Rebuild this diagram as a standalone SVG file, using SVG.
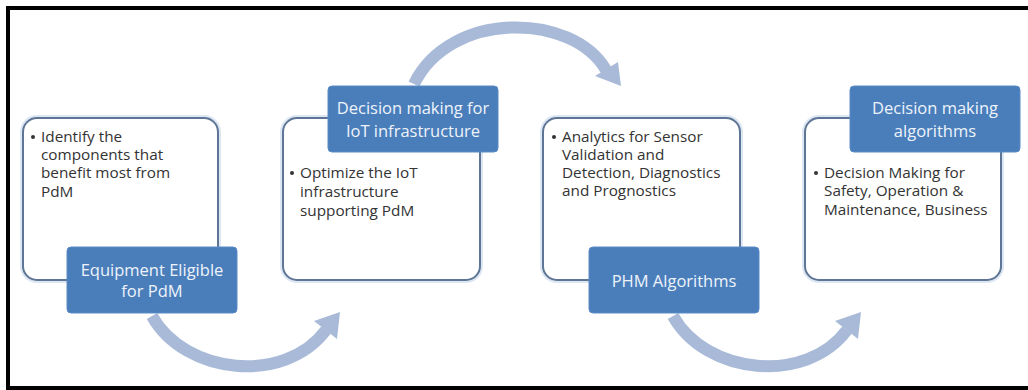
<svg xmlns="http://www.w3.org/2000/svg" width="1028" height="390" viewBox="0 0 1028 390">
<style>
.frame{fill:none;stroke:#000;stroke-width:4}
.card{fill:#fff;stroke:#5f7596;stroke-width:2}
.halo{fill:none;stroke:#dde7f3;stroke-width:6}
.label{fill:#4a7ebb;stroke:#5b8bc6;stroke-width:1}
.lt{font-family:"Open Sans","Liberation Sans",sans-serif;font-size:16.5px;fill:#eef3fa;text-anchor:middle}
.bt{font-family:"Open Sans","Liberation Sans",sans-serif;font-size:15.3px;fill:#333}
.dot{fill:#333}
.arc{fill:none;stroke:#a9bad8;stroke-width:12}
.head{fill:#a9bad8}
</style>
<rect width="1028" height="390" fill="#fff"/>
<path class="frame" d="M1030 8 H8 V388 H1030"/>

<g id="connectors">
  <g id="arrow1">
    <path class="arc" d="M152 316 C185 375 285 385 326 330"/>
    <polygon class="head" points="314,321 337,339 340,312"/>
  </g>
  <g id="arrow2">
    <path class="arc" d="M414 84 C450 10 572 12 606 70"/>
    <polygon class="head" points="595,76 618,62 621,86"/>
  </g>
  <g id="arrow3" transform="translate(521,0)">
    <path class="arc" d="M152 316 C185 375 285 385 326 330"/>
    <polygon class="head" points="314,321 337,339 340,312"/>
  </g>
</g>

<g id="node1">
  <rect class="halo" x="23" y="118" width="195" height="162" rx="14"/>
  <rect class="card" x="23" y="118" width="195" height="162" rx="14"/>
  <circle class="dot" cx="33" cy="137" r="2"/>
  <text class="bt" x="41" y="142">Identify the</text>
  <text class="bt" x="41" y="160">components that</text>
  <text class="bt" x="41" y="178">benefit most from</text>
  <text class="bt" x="41" y="197">PdM</text>
  <rect class="label" x="67" y="247" width="170" height="66" rx="4"/>
  <text class="lt" x="152" y="276">Equipment Eligible</text>
  <text class="lt" x="152" y="297">for PdM</text>
</g>

<g id="node2">
  <rect class="halo" x="283" y="118" width="197" height="162" rx="14"/>
  <rect class="card" x="283" y="118" width="197" height="162" rx="14"/>
  <circle class="dot" cx="292" cy="173" r="2"/>
  <text class="bt" x="300" y="178">Optimize the IoT</text>
  <text class="bt" x="300" y="197">infrastructure</text>
  <text class="bt" x="300" y="216">supporting PdM</text>
  <rect class="label" x="328" y="86" width="170" height="66" rx="4"/>
  <text class="lt" x="413" y="114">Decision making for</text>
  <text class="lt" x="413" y="137">IoT infrastructure</text>
</g>

<g id="node3">
  <rect class="halo" x="543" y="118" width="197" height="162" rx="14"/>
  <rect class="card" x="543" y="118" width="197" height="162" rx="14"/>
  <circle class="dot" cx="554" cy="137" r="2"/>
  <text class="bt" x="562" y="142">Analytics for Sensor</text>
  <text class="bt" x="562" y="160">Validation and</text>
  <text class="bt" x="562" y="178">Detection, Diagnostics</text>
  <text class="bt" x="562" y="196">and Prognostics</text>
  <rect class="label" x="589" y="247" width="170" height="66" rx="4"/>
  <text class="lt" x="674" y="287">PHM Algorithms</text>
</g>

<g id="node4">
  <rect class="halo" x="805" y="118" width="196" height="162" rx="14"/>
  <rect class="card" x="805" y="118" width="196" height="162" rx="14"/>
  <circle class="dot" cx="816" cy="173" r="2"/>
  <text class="bt" x="824" y="178">Decision Making for</text>
  <text class="bt" x="824" y="196">Safety, Operation &amp;</text>
  <text class="bt" x="824" y="215">Maintenance, Business</text>
  <rect class="label" x="850" y="86" width="170" height="66" rx="4"/>
  <text class="lt" x="935" y="114">Decision making</text>
  <text class="lt" x="935" y="137">algorithms</text>
</g>
</svg>
